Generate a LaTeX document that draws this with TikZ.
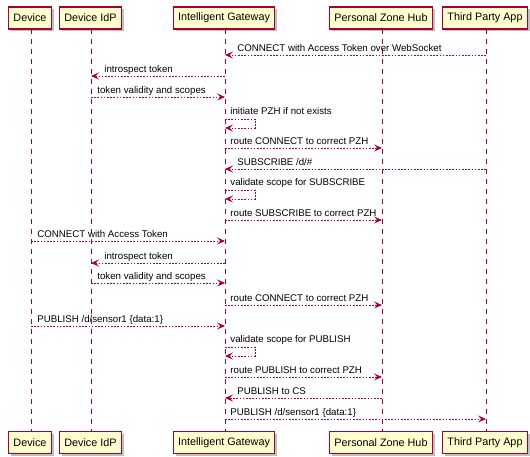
\documentclass[tikz,border=0pt]{standalone}
\usepackage{fontspec}
\setmainfont{Liberation Sans}
\usetikzlibrary{arrows.meta,shadows}
\definecolor{pred}{HTML}{A80036}
\definecolor{pfill}{HTML}{FEFECE}
\tikzset{
  part/.style={draw=pred, fill=pfill, line width=1.1pt, minimum height=22pt,
    inner xsep=4.6pt, inner ysep=0pt, font=\fontsize{10.8}{12}\selectfont,
    drop shadow={shadow xshift=2.5pt, shadow yshift=-2.5pt, opacity=0.25, fill=black}},
  life/.style={draw=pred, line width=0.8pt, dash pattern=on 5pt off 5pt},
  msg/.style={draw=pred, line width=0.8pt, dash pattern=on 1.6pt off 1.6pt,
    -{Stealth[length=8pt, width=7pt, inset=3.2pt]}},
  lbl/.style={font=\fontsize{9.7}{12}\selectfont, inner sep=0pt, anchor=base west},
}
\begin{document}
\begin{tikzpicture}[x=1pt, y=-1pt]
\useasboundingbox (0,0) rectangle (530,457);
% lifelines (coordinates)
\coordinate (ldev) at (31,29);
\coordinate (lidp) at (91,29);
\coordinate (lgw) at (225,29);
\coordinate (lpzh) at (382,29);
\coordinate (ltpa) at (486,29);
\coordinate (bdev) at (31,432);
\coordinate (bidp) at (91,432);
\coordinate (bgw) at (225,432);
\coordinate (bpzh) at (382,432);
\coordinate (btpa) at (486,432);
\draw[life] (ldev) -- (bdev);
\draw[life] (lidp) -- (bidp);
\draw[life] (lgw) -- (bgw);
\draw[life] (lpzh) -- (bpzh);
\draw[life] (ltpa) -- (btpa);
% participants
\node[part] (dev) at (30,18) {Device};
\node[part] (idp) at (90.5,18) {Device IdP};
\node[part] (gw) at (224,18) {Intelligent Gateway};
\node[part] (pzh) at (381,18) {Personal Zone Hub};
\node[part] (tpa) at (485,18) {Third Party App};
\node[part] (devB) at (30,442.5) {Device};
\node[part] (idpB) at (90.5,442.5) {Device IdP};
\node[part] (gwB) at (224,442.5) {Intelligent Gateway};
\node[part] (pzhB) at (381,442.5) {Personal Zone Hub};
\node[part] (tpaB) at (485,442.5) {Third Party App};
% messages
\draw[msg] (ltpa |- 0,55) -- (lgw |- 0,55) node[lbl, xshift=12pt, yshift=3.5pt] {CONNECT with Access Token over WebSocket};
\draw[msg] (lgw |- 0,76) -- (lidp |- 0,76) node[lbl, xshift=13pt, yshift=3.5pt] {introspect token};
\draw[msg] (lidp |- 0,97) node[lbl, xshift=6pt, yshift=3.5pt] {token validity and scopes} -- (lgw |- 0,97);
\draw[msg] (lgw |- 0,119) node[lbl, xshift=5pt, yshift=4.5pt] {initiate PZH if not exists} -- ++(30,0) -- ++(0,9) -- (lgw |- 0,128);
\draw[msg] (lgw |- 0,148) node[lbl, xshift=5pt, yshift=3.5pt] {route CONNECT to correct PZH} -- (lpzh |- 0,148);
\draw[msg] (ltpa |- 0,169) -- (lgw |- 0,169) node[lbl, xshift=12pt, yshift=3.5pt] {SUBSCRIBE /d/\#};
\draw[msg] (lgw |- 0,190) node[lbl, xshift=5pt, yshift=4.5pt] {validate scope for SUBSCRIBE} -- ++(30,0) -- ++(0,9) -- (lgw |- 0,199);
\draw[msg] (lgw |- 0,220) node[lbl, xshift=5pt, yshift=3.5pt] {route SUBSCRIBE to correct PZH} -- (lpzh |- 0,220);
\draw[msg] (ldev |- 0,241) node[lbl, xshift=6pt, yshift=3.5pt] {CONNECT with Access Token} -- (lgw |- 0,241);
\draw[msg] (lgw |- 0,263) -- (lidp |- 0,263) node[lbl, xshift=13pt, yshift=3.5pt] {introspect token};
\draw[msg] (lidp |- 0,283) node[lbl, xshift=6pt, yshift=3.5pt] {token validity and scopes} -- (lgw |- 0,283);
\draw[msg] (lgw |- 0,305) node[lbl, xshift=5pt, yshift=3.5pt] {route CONNECT to correct PZH} -- (lpzh |- 0,305);
\draw[msg] (ldev |- 0,326) node[lbl, xshift=6pt, yshift=3.5pt] {PUBLISH /d/sensor1 \{data:1\}} -- (lgw |- 0,326);
\draw[msg] (lgw |- 0,347) node[lbl, xshift=5pt, yshift=4.5pt] {validate scope for PUBLISH} -- ++(30,0) -- ++(0,9) -- (lgw |- 0,356);
\draw[msg] (lgw |- 0,377) node[lbl, xshift=5pt, yshift=3.5pt] {route PUBLISH to correct PZH} -- (lpzh |- 0,377);
\draw[msg] (lpzh |- 0,398) -- (lgw |- 0,398) node[lbl, xshift=12pt, yshift=3.5pt] {PUBLISH to CS};
\draw[msg] (lgw |- 0,419) node[lbl, xshift=5pt, yshift=3.5pt] {PUBLISH /d/sensor1 \{data:1\}} -- (ltpa |- 0,419);
\end{tikzpicture}
\end{document}
